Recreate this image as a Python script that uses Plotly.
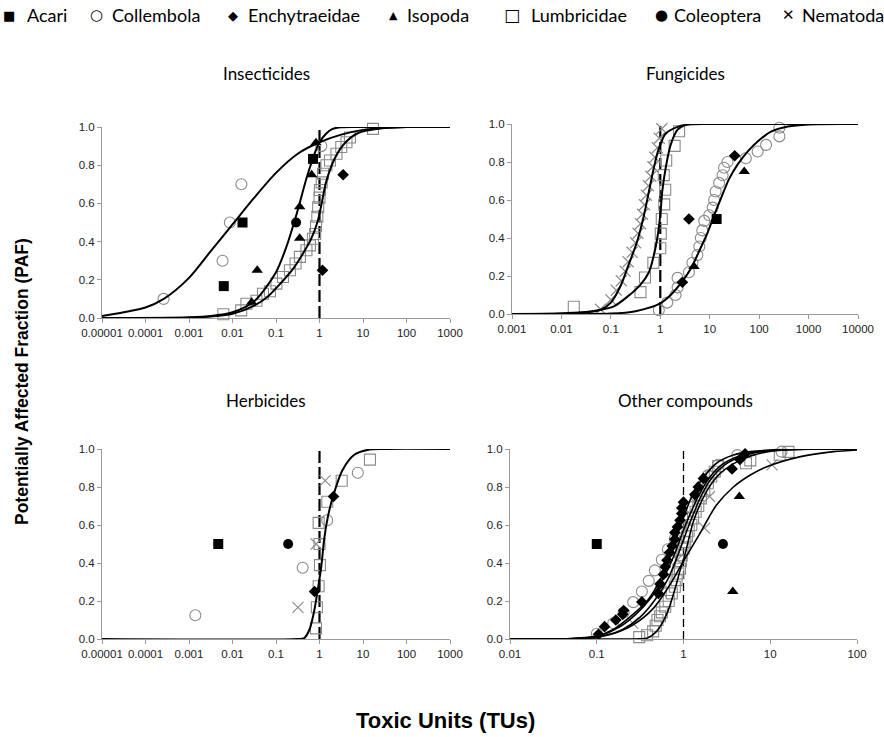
import numpy as np
import plotly.graph_objects as go

# ------------------------------------------------------------------
# Observed species sensitivities: toxic units (TU) and PAF positions
# ------------------------------------------------------------------
# Insecticides
ins_acari_tu = [0.0063, 0.017, 0.71]
ins_acari_paf = [0.167, 0.5, 0.833]
ins_collembola_tu = [0.00026, 0.0059, 0.0087, 0.016, 1.1]
ins_collembola_paf = [0.1, 0.3, 0.5, 0.7, 0.9]
ins_enchy_tu = [1.17, 3.5]
ins_enchy_paf = [0.25, 0.75]
ins_isopoda_tu = [0.0275, 0.037, 0.35, 0.35, 0.66, 0.83]
ins_isopoda_paf = [0.083, 0.25, 0.417, 0.583, 0.75, 0.917]
ins_coleoptera_tu = [0.29]
ins_coleoptera_paf = [0.5]
ins_lumbri_log = [-2.21, -1.80, -1.68, -1.45, -1.30, -1.14, -0.99, -0.84, -0.68, -0.55,
                  -0.45, -0.30, -0.22, -0.15, -0.10, -0.08, -0.05, -0.03, 0.0, 0.01,
                  0.05, 0.08, 0.16, 0.24, 0.39, 0.50, 0.62, 0.70, 1.23]
ins_lumbri_paf = [0.02, 0.04, 0.075, 0.09, 0.127, 0.14, 0.18, 0.215, 0.25, 0.285,
                  0.32, 0.355, 0.38, 0.415, 0.44, 0.48, 0.53, 0.58, 0.63, 0.67,
                  0.71, 0.755, 0.80, 0.825, 0.86, 0.895, 0.92, 0.945, 0.99]

# Fungicides
fun_acari_tu = [13.8]
fun_acari_paf = [0.5]
fun_collembola_log = [-0.03, 0.14, 0.31, 0.35, 0.35, 0.58, 0.65, 0.75, 0.79, 0.82,
                      0.85, 0.89, 0.99, 1.06, 1.09, 1.12, 1.19, 1.26, 1.29, 1.36,
                      1.73, 1.97, 2.14, 2.41, 2.41]
fun_collembola_paf = [0.02, 0.06, 0.10, 0.14, 0.19, 0.22, 0.27, 0.31, 0.355, 0.40,
                      0.44, 0.49, 0.52, 0.56, 0.60, 0.645, 0.69, 0.73, 0.77, 0.80,
                      0.82, 0.855, 0.89, 0.935, 0.98]
fun_enchy_tu = [2.8, 3.8, 32.0]
fun_enchy_paf = [0.167, 0.5, 0.833]
fun_isopoda_tu = [4.8, 50.0]
fun_isopoda_paf = [0.25, 0.75]
fun_lumbri_log = [-1.75, -0.40, -0.31, -0.14, 0.0, 0.01, 0.03, 0.08, 0.10, 0.07, 0.12, 0.29, 0.38]
fun_lumbri_paf = [0.038, 0.115, 0.192, 0.269, 0.346, 0.423, 0.5, 0.577, 0.654, 0.731,
                  0.808, 0.885, 0.962]
fun_nema_log = [-1.21, -1.00, -0.89, -0.79, -0.71, -0.65, -0.57, -0.50, -0.45, -0.40,
                -0.36, -0.32, -0.28, -0.24, -0.19, -0.15, -0.11, -0.06, -0.02, 0.03]
fun_nema_paf = [0.025, 0.075, 0.125, 0.175, 0.225, 0.275, 0.325, 0.375, 0.425, 0.475,
                0.525, 0.575, 0.625, 0.675, 0.725, 0.775, 0.825, 0.875, 0.925, 0.975]

# Herbicides
her_acari_tu = [0.0047]
her_acari_paf = [0.5]
her_coleoptera_tu = [0.19]
her_coleoptera_paf = [0.5]
her_collembola_tu = [0.0014, 0.41, 1.5, 7.6]
her_collembola_paf = [0.125, 0.375, 0.625, 0.875]
her_nema_tu = [0.32, 0.84, 1.35]
her_nema_paf = [0.167, 0.5, 0.833]
her_enchy_tu = [0.77, 2.1]
her_enchy_paf = [0.25, 0.75]
her_lumbri_log = [-0.08, -0.06, -0.02, 0.01, 0.0, -0.02, 0.18, 0.51, 1.16]
her_lumbri_paf = [0.056, 0.167, 0.278, 0.389, 0.5, 0.611, 0.722, 0.833, 0.944]

# Other compounds
oth_acari_tu = [0.1]
oth_acari_paf = [0.5]
oth_coleoptera_tu = [2.85]
oth_coleoptera_paf = [0.5]
oth_isopoda_tu = [3.7, 4.4]
oth_isopoda_paf = [0.25, 0.75]
oth_nema_tu = [0.26, 0.55, 0.85, 1.75, 2.0, 10.5]
oth_nema_paf = [0.083, 0.25, 0.417, 0.583, 0.75, 0.917]
oth_collembola_log = [-1.0, -0.81, -0.69, -0.58, -0.48, -0.40, -0.33, -0.25, -0.18, -0.10,
                      -0.03, 0.03, 0.09, 0.15, 0.21, 0.28, 0.40, 0.62, 1.13]
oth_collembola_paf = [0.028, 0.083, 0.139, 0.194, 0.25, 0.306, 0.361, 0.417, 0.472, 0.528,
                      0.583, 0.639, 0.694, 0.75, 0.806, 0.861, 0.917, 0.968, 0.986]
oth_enchy_log = [-0.98, -0.91, -0.78, -0.70, -0.69, -0.48, -0.29, -0.27, -0.23, -0.21,
                 -0.19, -0.16, -0.13, -0.10, -0.10, -0.07, -0.04, -0.02, -0.02, 0.0,
                 0.13, 0.17, 0.23, 0.56, 0.65, 0.71]
oth_enchy_paf = [0.025, 0.065, 0.10, 0.13, 0.15, 0.195, 0.24, 0.29, 0.34, 0.38,
                 0.415, 0.455, 0.49, 0.525, 0.56, 0.59, 0.625, 0.66, 0.69, 0.72,
                 0.76, 0.80, 0.845, 0.895, 0.945, 0.975]
oth_lumbri_log = [-0.51, -0.42, -0.35, -0.32, -0.30, -0.27, -0.25, -0.21, -0.17, -0.135,
                  -0.10, -0.08, -0.06, -0.04, -0.03, -0.02, 0.0, 0.02, 0.04, 0.06,
                  0.09, 0.11, 0.14, 0.17, 0.20, 0.24, 0.28, 0.32, 0.36, 0.40,
                  0.72, 0.77, 1.11, 1.21]
oth_lumbri_paf = [0.01, 0.02, 0.04, 0.07, 0.10, 0.12, 0.14, 0.17, 0.20, 0.24,
                  0.275, 0.31, 0.345, 0.37, 0.41, 0.44, 0.475, 0.51, 0.54, 0.57,
                  0.60, 0.635, 0.67, 0.70, 0.74, 0.78, 0.82, 0.855, 0.88, 0.91,
                  0.925, 0.94, 0.97, 0.985]

# ------------------------------------------------------------------
# Fitted species sensitivity distributions (log10 TU, PAF)
# ------------------------------------------------------------------
ins_curves = [
    ([-5, -4.5, -4, -3.58, -3, -2.5, -2, -1.5, -1, -0.5, 0, 0.5, 1, 1.5, 2, 3],
     [0.01, 0.03, 0.055, 0.10, 0.21, 0.35, 0.49, 0.63, 0.76, 0.86, 0.92, 0.96, 0.985, 0.995, 1.0, 1.0]),
    ([-5, -4, -3, -2.5, -2, -1.5, -1, -0.75, -0.5, -0.3, -0.1, 0, 0.15, 0.3, 0.5, 1, 3],
     [0.0, 0.0004, 0.003, 0.01, 0.03, 0.088, 0.24, 0.38, 0.565, 0.73, 0.868, 0.92, 0.965, 0.99, 0.999, 1.0, 1.0]),
    ([-5, -3, -2.5, -2, -1.5, -1.2, -0.9, -0.6, -0.4, -0.2, -0.05, 0.05, 0.15, 0.35, 0.6, 0.9, 1.3, 2, 3],
     [0.0, 0.002, 0.008, 0.022, 0.065, 0.11, 0.18, 0.26, 0.33, 0.41, 0.50, 0.60, 0.71, 0.835, 0.92, 0.97, 0.99, 1.0, 1.0]),
]
fun_curves = [
    ([-3, -2, -1.5, -1.21, -1.0, -0.8, -0.64, -0.47, -0.33, -0.23, -0.13, -0.03, 0.11, 0.35, 0.6, 1, 4],
     [0.0, 0.002, 0.008, 0.022, 0.06, 0.15, 0.26, 0.38, 0.52, 0.645, 0.77, 0.87, 0.95, 0.985, 0.998, 1.0, 1.0]),
    ([-3, -2, -1.5, -1.2, -0.94, -0.67, -0.4, -0.23, -0.13, -0.06, 0.0, 0.04, 0.11, 0.21, 0.35, 0.5, 0.7, 4],
     [0.0, 0.003, 0.01, 0.022, 0.04, 0.09, 0.155, 0.22, 0.31, 0.40, 0.52, 0.645, 0.77, 0.89, 0.97, 0.995, 1.0, 1.0]),
    ([-3, -1, -0.5, 0, 0.21, 0.41, 0.62, 0.82, 0.96, 1.09, 1.23, 1.39, 1.56, 1.77, 1.97, 2.24, 2.58, 3, 4],
     [0.0, 0.002, 0.015, 0.056, 0.10, 0.16, 0.24, 0.35, 0.43, 0.52, 0.61, 0.71, 0.785, 0.856, 0.908, 0.96, 0.987, 0.998, 1.0]),
]
her_curves = [
    ([-5, -0.5, -0.35, -0.23, -0.12, -0.04, 0.04, 0.11, 0.19, 0.31, 0.53, 0.8, 1.1, 1.5, 3],
     [0.0, 0.0, 0.005, 0.05, 0.15, 0.26, 0.38, 0.53, 0.64, 0.75, 0.89, 0.97, 0.995, 1.0, 1.0]),
]
oth_curves = [
    ([-2, -1.3, -1.0, -0.81, -0.62, -0.42, -0.27, -0.155, -0.077, 0, 0.115, 0.23, 0.38, 0.575, 0.77, 1.2, 2],
     [0.0, 0.003, 0.015, 0.05, 0.115, 0.20, 0.31, 0.43, 0.54, 0.64, 0.77, 0.85, 0.925, 0.968, 0.986, 0.998, 1.0]),
    ([-2, -1.2, -0.95, -0.75, -0.55, -0.37, -0.22, -0.10, -0.02, 0.06, 0.18, 0.3, 0.45, 0.65, 0.85, 1.2, 2],
     [0.0, 0.004, 0.02, 0.06, 0.13, 0.22, 0.33, 0.45, 0.55, 0.64, 0.76, 0.85, 0.92, 0.965, 0.985, 0.997, 1.0]),
    ([-2, -1.15, -0.9, -0.7, -0.5, -0.33, -0.18, -0.07, 0.01, 0.09, 0.2, 0.32, 0.47, 0.67, 0.87, 1.2, 2],
     [0.0, 0.004, 0.018, 0.05, 0.115, 0.205, 0.315, 0.435, 0.535, 0.63, 0.75, 0.845, 0.915, 0.962, 0.984, 0.997, 1.0]),
    ([-2, -0.6, -0.5, -0.42, -0.31, -0.19, -0.10, -0.04, 0.02, 0.115, 0.27, 0.42, 0.65, 0.96, 1.3, 2],
     [0.0, 0.0, 0.001, 0.004, 0.04, 0.135, 0.26, 0.36, 0.45, 0.62, 0.78, 0.87, 0.94, 0.985, 0.998, 1.0]),
    ([-2, -1.2, -1.0, -0.8, -0.58, -0.35, -0.15, 0.0, 0.19, 0.38, 0.575, 0.77, 0.96, 1.35, 1.73, 2],
     [0.0, 0.002, 0.01, 0.03, 0.075, 0.16, 0.29, 0.41, 0.556, 0.705, 0.80, 0.863, 0.907, 0.96, 0.986, 0.995]),
]

# Tick labels for each panel
ticks_wide = [0.00001, 0.0001, 0.001, 0.01, 0.1, 1, 10, 100, 1000]
ticks_wide_text = ["0.00001", "0.0001", "0.001", "0.01", "0.1", "1", "10", "100", "1000"]
ticks_fun = [0.001, 0.01, 0.1, 1, 10, 100, 1000, 10000]
ticks_fun_text = ["0.001", "0.01", "0.1", "1", "10", "100", "1000", "10000"]
ticks_oth = [0.01, 0.1, 1, 10, 100]
ticks_oth_text = ["0.01", "0.1", "1", "10", "100"]
paf_ticks = [0.0, 0.2, 0.4, 0.6, 0.8, 1.0]

panel_titles = ["Insecticides", "Fungicides", "Herbicides", "Other compounds"]
species = ["Acari", "Collembola", "Enchytraeidae", "Isopoda", "Lumbricidae", "Coleoptera", "Nematoda"]
species_glyphs = ["\u25A0", "<b>\u25CB</b>", "\u25C6", "\u25B2", "<b>\u25A1</b>", "\u25CF", "<b>\u2715</b>"]

# ------------------------------------------------------------------
GRAY = "#8a8a8a"
AXIS = "#9a9a9a"
STYLE = {
    "Acari": dict(symbol="square", size=10, color="black"),
    "Collembola": dict(symbol="circle-open", size=11, color=GRAY, line=dict(width=1.1, color=GRAY)),
    "Enchytraeidae": dict(symbol="diamond", size=9, color="black"),
    "Isopoda": dict(symbol="triangle-up", size=10, color="black"),
    "Lumbricidae": dict(symbol="square-open", size=11, color=GRAY, line=dict(width=1.1, color=GRAY)),
    "Coleoptera": dict(symbol="circle", size=10, color="black"),
    "Nematoda": dict(symbol="x-thin-open", size=11, color=GRAY, line=dict(width=1.1, color=GRAY)),
}

fig = go.Figure()


def tu(logs):
    return np.power(10.0, np.asarray(logs, dtype=float))


def add_points(name, x, y, ax):
    fig.add_trace(go.Scatter(x=x, y=y, mode="markers", marker=STYLE[name], name=name,
                             showlegend=False, cliponaxis=False, hoverinfo="skip",
                             xaxis="x" + ax, yaxis="y" + ax))


def add_curves(curves, ax, width):
    for logx, paf in curves:
        fig.add_trace(go.Scatter(x=tu(logx), y=paf, mode="lines",
                                 line=dict(color="black", width=width, shape="spline", smoothing=0.8),
                                 showlegend=False, cliponaxis=False, hoverinfo="skip",
                                 xaxis="x" + ax, yaxis="y" + ax))


def add_unit_line(ax, width, dash):
    fig.add_trace(go.Scatter(x=[1, 1], y=[0, 1.03], mode="lines",
                             line=dict(color="black", width=width, dash=dash),
                             showlegend=False, cliponaxis=False, hoverinfo="skip",
                             xaxis="x" + ax, yaxis="y" + ax))


# Insecticides (axis 1)
add_unit_line("", 2.2, "12px,4px")
add_points("Lumbricidae", tu(ins_lumbri_log), ins_lumbri_paf, "")
add_points("Collembola", ins_collembola_tu, ins_collembola_paf, "")
add_curves(ins_curves, "", 2)
add_points("Acari", ins_acari_tu, ins_acari_paf, "")
add_points("Enchytraeidae", ins_enchy_tu, ins_enchy_paf, "")
add_points("Isopoda", ins_isopoda_tu, ins_isopoda_paf, "")
add_points("Coleoptera", ins_coleoptera_tu, ins_coleoptera_paf, "")

# Fungicides (axis 2)
add_unit_line("2", 2.2, "12px,4px")
add_points("Nematoda", tu(fun_nema_log), fun_nema_paf, "2")
add_points("Lumbricidae", tu(fun_lumbri_log), fun_lumbri_paf, "2")
add_points("Collembola", tu(fun_collembola_log), fun_collembola_paf, "2")
add_curves(fun_curves, "2", 2)
add_points("Acari", fun_acari_tu, fun_acari_paf, "2")
add_points("Enchytraeidae", fun_enchy_tu, fun_enchy_paf, "2")
add_points("Isopoda", fun_isopoda_tu, fun_isopoda_paf, "2")

# Herbicides (axis 3)
add_unit_line("3", 2.2, "12px,4px")
add_points("Lumbricidae", tu(her_lumbri_log), her_lumbri_paf, "3")
add_points("Collembola", her_collembola_tu, her_collembola_paf, "3")
add_points("Nematoda", her_nema_tu, her_nema_paf, "3")
add_curves(her_curves, "3", 2)
add_points("Acari", her_acari_tu, her_acari_paf, "3")
add_points("Coleoptera", her_coleoptera_tu, her_coleoptera_paf, "3")
add_points("Enchytraeidae", her_enchy_tu, her_enchy_paf, "3")

# Other compounds (axis 4)
add_unit_line("4", 1.3, "8px,4px")
add_points("Lumbricidae", tu(oth_lumbri_log), oth_lumbri_paf, "4")
add_points("Collembola", tu(oth_collembola_log), oth_collembola_paf, "4")
add_points("Nematoda", oth_nema_tu, oth_nema_paf, "4")
add_curves(oth_curves, "4", 1.6)
add_points("Enchytraeidae", tu(oth_enchy_log), oth_enchy_paf, "4")
add_points("Acari", oth_acari_tu, oth_acari_paf, "4")
add_points("Coleoptera", oth_coleoptera_tu, oth_coleoptera_paf, "4")
add_points("Isopoda", oth_isopoda_tu, oth_isopoda_paf, "4")

W, H = 884, 737
tick_font = dict(family="Liberation Sans, Arial, sans-serif", size=11.5, color="#222")


def xaxis(domain, rng, vals, text, anchor):
    return dict(domain=domain, type="log", range=rng, tickvals=vals, ticktext=text,
                showgrid=False, zeroline=False, showline=True, linecolor=AXIS, linewidth=1,
                ticks="outside", ticklen=4, tickcolor=AXIS, tickfont=tick_font, anchor=anchor,
                automargin=False)


def yaxis(domain, anchor):
    return dict(domain=domain, range=[0, 1], tickvals=paf_ticks, tickformat=".1f",
                showgrid=False, zeroline=False, showline=True, linecolor=AXIS, linewidth=1,
                ticks="outside", ticklen=4, tickcolor=AXIS, tickfont=tick_font, anchor=anchor,
                automargin=False)


fig.update_layout(
    width=W, height=H, margin=dict(l=0, r=0, t=0, b=0, autoexpand=False),
    paper_bgcolor="white", plot_bgcolor="white", showlegend=False,
    xaxis=xaxis([102 / W, 450 / W], [-5, 3], ticks_wide, ticks_wide_text, "y"),
    yaxis=yaxis([1 - 318 / H, 1 - 127 / H], "x"),
    xaxis2=xaxis([512 / W, 858 / W], [-3, 4], ticks_fun, ticks_fun_text, "y2"),
    yaxis2=yaxis([1 - 314 / H, 1 - 124 / H], "x2"),
    xaxis3=xaxis([102 / W, 450 / W], [-5, 3], ticks_wide, ticks_wide_text, "y3"),
    yaxis3=yaxis([1 - 639 / H, 1 - 449 / H], "x3"),
    xaxis4=xaxis([510 / W, 857 / W], [-2, 2], ticks_oth, ticks_oth_text, "y4"),
    yaxis4=yaxis([1 - 639 / H, 1 - 449 / H], "x4"),
)

# Key line across the top: symbol glyph followed by the group name
key_font = dict(family="Lato, Open Sans, sans-serif", size=18, color="black")
glyph_sizes = [13, 15, 13, 11, 17, 15, 15]
glyph_x = [9, 96, 233, 393, 512, 661, 788]
name_x = [25, 110, 246, 405, 529, 672, 800]
key_y = 1 - 15 / H
for name, glyph, gsize, gx, nx in zip(species, species_glyphs, glyph_sizes, glyph_x, name_x):
    fig.add_annotation(text=glyph, x=gx / W, y=key_y, xref="paper", yref="paper",
                       showarrow=False, xanchor="center", yanchor="middle",
                       font=dict(family="DejaVu Sans", size=gsize, color="black"))
    fig.add_annotation(text=name, x=nx / W, y=key_y, xref="paper", yref="paper",
                       showarrow=False, xanchor="left", yanchor="middle", font=key_font)

title_font = dict(family="Lato, Open Sans, sans-serif", size=17, color="black")
title_pos = [(266, 74), (685, 74), (266, 400), (685, 400)]
for text, (px, py) in zip(panel_titles, title_pos):
    fig.add_annotation(text=text, x=px / W, y=1 - py / H, xref="paper", yref="paper",
                       showarrow=False, font=title_font, xanchor="center", yanchor="middle")

fig.add_annotation(text="<b>Potentially Affected Fraction (PAF)</b>", x=22 / W, y=1 - 382 / H,
                   xref="paper", yref="paper", showarrow=False, textangle=-90,
                   font=dict(family="Liberation Sans, Arial, sans-serif", size=17.5, color="black"),
                   xanchor="center", yanchor="middle")
fig.add_annotation(text="<b>Toxic Units (TUs)</b>", x=445 / W, y=1 - 720 / H,
                   xref="paper", yref="paper", showarrow=False,
                   font=dict(family="Liberation Sans, Arial, sans-serif", size=22, color="black"),
                   xanchor="center", yanchor="middle")

fig.write_html("out.html")
